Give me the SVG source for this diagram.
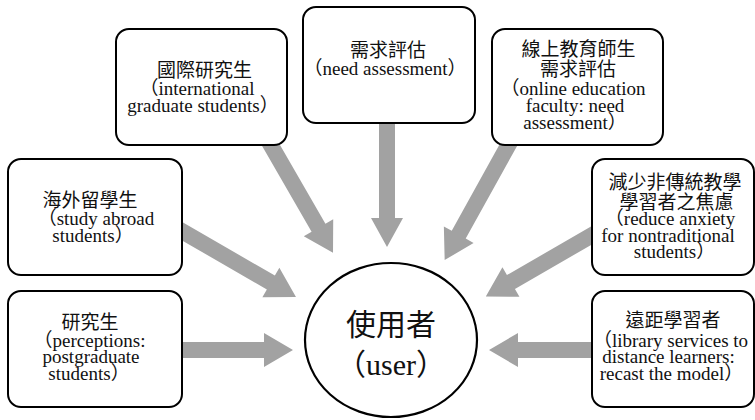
<svg xmlns="http://www.w3.org/2000/svg" width="755" height="420" viewBox="0 0 755 420">
  <style>
    .box { fill: #ffffff; stroke: #000000; stroke-width: 2; }
    .hub { fill: #ffffff; stroke: #000000; stroke-width: 2.2; }
    .arrow { fill: #a2a2a2; stroke: none; }
    .lbl, .big { fill: #111111; text-anchor: middle; }
    .lbl { font-size: 19px; }
    .big { font-size: 30px; }
  </style>

  <!-- block arrows: shaft half-width 8, head half-width 17, head length 29 -->
  <g id="connectors">
    <path class="arrow" transform="translate(175,350) rotate(0)" d="M0,-8 H89 V-17 L118,0 L89,17 V8 H0 Z"/>
    <path class="arrow" transform="translate(600,350) rotate(180)" d="M0,-8 H82 V-17 L111,0 L82,17 V8 H0 Z"/>
    <path class="arrow" transform="translate(387,115) rotate(90)" d="M0,-8 H103 V-16 L132,0 L103,16 V8 H0 Z"/>
    <path class="arrow" transform="translate(173,226) rotate(30)" d="M0,-8 H113 V-17 L142,0 L113,17 V8 H0 Z"/>
    <path class="arrow" transform="translate(265,135) rotate(60)" d="M0,-8 H107 V-17 L136,0 L107,17 V8 H0 Z"/>
    <path class="arrow" transform="translate(514,135) rotate(119)" d="M0,-8 H114 V-17 L143,0 L114,17 V8 H0 Z"/>
    <path class="arrow" transform="translate(601,230) rotate(150)" d="M0,-8 H104 V-17 L133,0 L104,17 V8 H0 Z"/>
  </g>

  <!-- Latin lines use a Times-metric serif; CJK and full-width brackets use Noto Sans CJK -->
  <g font-family="Liberation Serif, DejaVu Serif, Noto Sans CJK TC, serif">
  <g id="international-graduate">
    <rect class="box" x="116" y="29" width="171" height="116" rx="13"/>
    <text class="lbl" x="204.5" y="76.5">國際研究生</text>
    <text class="lbl" x="197" y="95">（international</text>
    <text class="lbl" x="203" y="112">graduate students）</text>
  </g>

  <g id="need-assessment">
    <rect class="box" x="303" y="7" width="172" height="116" rx="13"/>
    <text class="lbl" x="388" y="56.5">需求評估</text>
    <text class="lbl" x="385" y="75">（need assessment）</text>
  </g>

  <g id="online-faculty">
    <rect class="box" x="492" y="29" width="171" height="116" rx="13"/>
    <text class="lbl" x="578.5" y="56">線上教育師生</text>
    <text class="lbl" x="578" y="76">需求評估</text>
    <text class="lbl" x="573" y="95">（online education</text>
    <text class="lbl" x="575" y="112">faculty: need</text>
    <text class="lbl" x="575" y="129">assessment）</text>
  </g>

  <g id="study-abroad">
    <rect class="box" x="8" y="159" width="174" height="116" rx="13"/>
    <text class="lbl" x="90" y="207">海外留學生</text>
    <text class="lbl" x="96" y="225">（study abroad</text>
    <text class="lbl" x="93" y="242">students）</text>
  </g>

  <g id="postgraduate">
    <rect class="box" x="8" y="291" width="174" height="116" rx="13"/>
    <text class="lbl" x="90" y="329">研究生</text>
    <text class="lbl" x="89.5" y="347">（perceptions:</text>
    <text class="lbl" x="91" y="363">postgraduate</text>
    <text class="lbl" x="89" y="380">students）</text>
  </g>

  <g id="nontraditional">
    <rect class="box" x="592" y="159" width="162" height="116" rx="13"/>
    <text class="lbl" x="675" y="189">減少非傳統教學</text>
    <text class="lbl" x="676.5" y="209">學習者之焦慮</text>
    <text class="lbl" x="670" y="225">（reduce anxiety</text>
    <text class="lbl" x="668" y="242">for nontraditional</text>
    <text class="lbl" x="674.5" y="258">students）</text>
  </g>

  <g id="distance-learners">
    <rect class="box" x="592" y="291" width="162" height="116" rx="13"/>
    <text class="lbl" x="673" y="327">遠距學習者</text>
    <text class="lbl" x="670.5" y="347">（library services to</text>
    <text class="lbl" x="668.5" y="363">distance learners:</text>
    <text class="lbl" x="671.5" y="380">recast the model）</text>
  </g>

  <g id="user">
    <ellipse class="hub" cx="391" cy="340" rx="86" ry="77"/>
    <text class="big" x="391" y="335">使用者</text>
    <text class="big" x="391" y="375">（user）</text>
  </g>
  </g>
</svg>
